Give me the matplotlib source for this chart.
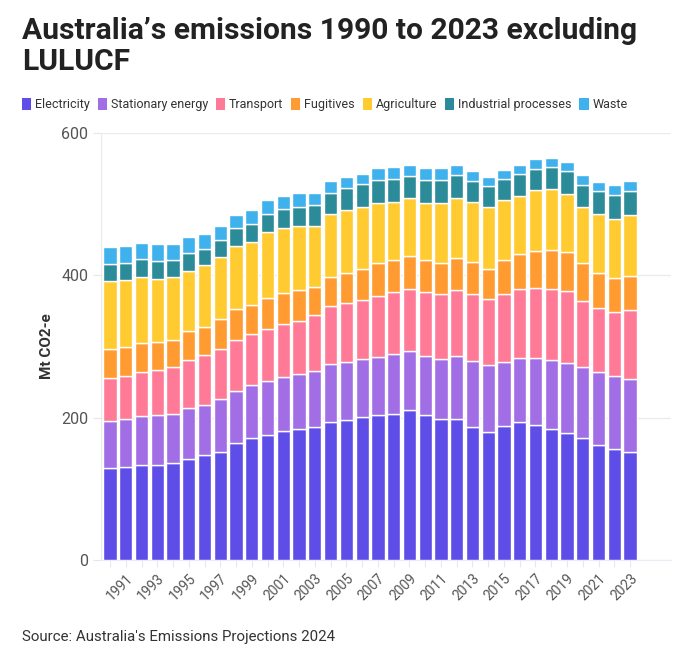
import matplotlib
matplotlib.use("Agg")
import matplotlib.pyplot as plt
from matplotlib.patches import Patch
import numpy as np

# Mt CO2-e por sector, 1990-2023
years = list(range(1990, 2024))

electricity = [129.7, 131.0, 134.0, 134.0, 135.8, 141.5, 147.5, 152.2, 164.0, 171.0,
               175.6, 181.7, 183.6, 186.4, 194.4, 196.7, 200.5, 203.3, 204.7, 210.8,
               203.7, 197.6, 198.1, 186.4, 179.9, 188.3, 193.9, 189.3, 183.6, 178.0,
               171.4, 162.0, 156.0, 151.7]
stationary = [66.1, 67.6, 68.3, 69.3, 69.8, 72.1, 70.8, 73.6, 73.9, 74.9,
              75.9, 75.4, 77.7, 79.6, 81.0, 82.0, 81.5, 82.4, 84.7, 83.3,
              83.3, 85.3, 88.9, 93.7, 93.7, 90.4, 90.4, 94.1, 97.4, 99.3,
              99.8, 102.2, 102.1, 102.2]
transport = [60.2, 60.4, 61.4, 63.7, 65.1, 67.9, 70.2, 70.2, 71.2, 72.1,
             73.5, 74.9, 75.0, 77.8, 81.0, 82.0, 82.9, 85.3, 87.2, 87.2,
             89.6, 90.9, 92.4, 93.7, 93.5, 94.6, 96.1, 98.4, 99.4, 100.7,
             93.2, 89.9, 89.9, 96.9]
fugitives = [40.5, 40.3, 41.7, 39.3, 38.0, 39.8, 38.9, 42.2, 44.0, 40.3,
             43.6, 43.6, 43.1, 40.3, 40.8, 43.0, 44.4, 46.0, 45.3, 45.8,
             45.3, 43.1, 45.4, 44.5, 42.2, 48.6, 49.1, 51.9, 55.2, 54.8,
             53.4, 48.7, 48.7, 48.8]
agriculture = [95.1, 94.1, 92.2, 89.0, 88.9, 84.3, 86.6, 87.6, 88.1, 88.5,
               92.3, 91.4, 90.4, 85.7, 88.5, 88.6, 87.2, 85.0, 81.1, 81.1,
               80.2, 84.3, 84.3, 85.2, 86.3, 83.9, 82.4, 85.8, 85.3, 81.0,
               78.2, 82.9, 82.9, 85.6]
industrial = [24.4, 24.4, 24.9, 24.7, 24.4, 25.3, 23.5, 23.8, 24.8, 25.3,
              24.8, 25.8, 26.7, 29.0, 30.5, 30.0, 31.4, 31.9, 32.3, 30.9,
              32.3, 32.7, 31.9, 29.0, 29.4, 29.1, 30.0, 30.4, 30.8, 32.3,
              31.4, 32.4, 32.8, 33.3]
waste = [24.0, 22.9, 22.9, 23.6, 22.5, 22.5, 20.5, 20.2, 19.2, 19.2,
         19.7, 19.1, 19.7, 17.4, 16.3, 16.3, 14.9, 16.5, 16.9, 16.4,
         16.0, 16.5, 14.5, 13.6, 13.1, 13.5, 13.6, 13.1, 13.1, 13.1,
         14.0, 13.0, 14.5, 13.5]

sectores = ["Electricity", "Stationary energy", "Transport", "Fugitives",
            "Agriculture", "Industrial processes", "Waste"]
series = [electricity, stationary, transport, fugitives, agriculture, industrial, waste]
colores = ["#5f4de8", "#a26ee6", "#ff7a97", "#ff9b30", "#ffcb30", "#2b8b98", "#3fb1ed"]

plt.rcParams["font.family"] = ["Roboto", "DejaVu Sans"]

fig = plt.figure(figsize=(6.95, 6.52), dpi=100)
ax = fig.add_axes([101 / 695, 92 / 652, 570 / 695, 427 / 652])

# barras apiladas
base = np.zeros(len(years))
for nombre, vals, col in zip(sectores, series, colores):
    ax.bar(years, vals, bottom=base, width=0.84, color=col,
           edgecolor="white", linewidth=1.0, label=nombre, zorder=3)
    base += np.array(vals)

ax.set_ylim(0, 600)
ax.set_xlim(1989.43, 2025.6)
ax.set_yticks([0, 200, 400, 600])
ax.grid(axis="y", color="#ebebeb", linewidth=1, zorder=0)

ax.set_xticks(years)
ax.set_xticklabels([str(y) if y % 2 == 1 else "" for y in years],
                   rotation=45, ha="right", va="top", rotation_mode="anchor")
ax.tick_params(axis="x", length=5, color="#e6e6f0", labelsize=10, labelcolor="#555555", pad=3)
ax.tick_params(axis="y", length=6, color="#e6e6e6", labelsize=11.5, labelcolor="#555555", pad=3)

for lado in ["top", "right"]:
    ax.spines[lado].set_visible(False)
ax.spines["left"].set_color("#ebebeb")
ax.spines["bottom"].set_color("#ebebf5")

ax.set_ylabel("Mt CO2-e", fontsize=11, fontweight="bold", color="#333333", labelpad=5)

# titulo
fig.text(22 / 695, 1 - 17 / 652, "Australia’s emissions 1990 to 2023 excluding\nLULUCF",
         fontsize=21.6, fontweight="bold", color="#222222", va="top", ha="left",
         linespacing=1.15)

# leyenda
handles = [Patch(facecolor=c, edgecolor="none") for c in colores]
fig.legend(handles, sectores, loc="upper left", bbox_to_anchor=(17 / 695, 1 - 93 / 652),
           ncol=7, frameon=False, fontsize=9.0, handlelength=0.75, handleheight=1.1,
           handletextpad=0.3, columnspacing=0.62, borderaxespad=0, labelcolor="#333333")

fig.text(22 / 695, 1 - 641 / 652, "Source: Australia's Emissions Projections 2024",
         fontsize=10.8, color="#333333", ha="left", va="baseline")

fig.savefig("out.png", dpi=100)
